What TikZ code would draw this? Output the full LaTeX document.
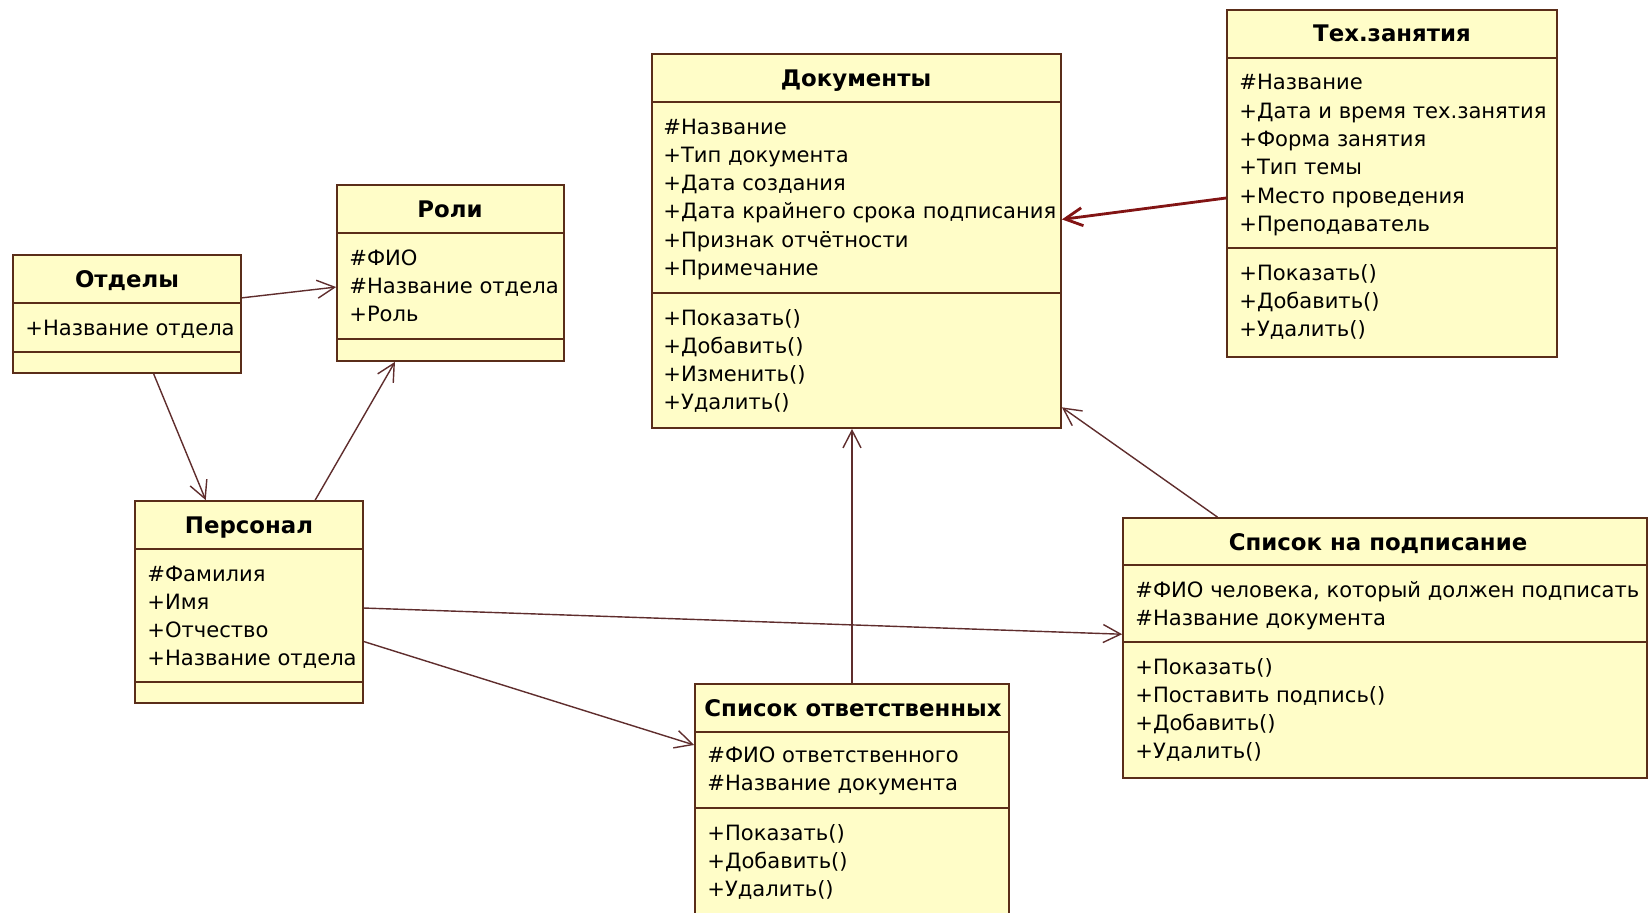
\documentclass[tikz,border=0pt]{standalone}
\usepackage{fontspec}
\setmainfont{DejaVu Sans}
\usetikzlibrary{arrows.meta, positioning, fit}

\definecolor{clsfill}{RGB}{255,253,200}
\definecolor{clsline}{RGB}{90,45,25}
\definecolor{linkcol}{RGB}{95,45,45}
\definecolor{linkred}{RGB}{130,20,20}

\begin{document}
\begin{tikzpicture}[
    x=0.2mm, y=-0.2mm,
    cls/.style={draw=clsline, fill=clsfill, line width=1pt, inner sep=0pt},
    divider/.style={draw=clsline, line width=1pt},
    clsname/.style={anchor=base, inner sep=0pt, font=\fontsize{13}{16}\selectfont\bfseries},
    item/.style={anchor=base west, inner sep=0pt, font=\fontsize{12}{16}\selectfont},
    link/.style={-{Straight Barb[length=3.5mm, width=3.6mm]}, line width=0.8pt, color=linkcol}
]
\clip (0,0) rectangle (1648,912);

% Отделы
\node[cls, fit={(13,255) (241,373)}] (otd) {};
\draw[divider] (13,303) -- (241,303) (13,352) -- (241,352);
\node[clsname] (otd-t) at (127,287) {Отделы};
\node[item] (otd-a1) at (25,335) {+Название отдела};

% Роли
\node[cls, fit={(337,185) (564,361)}] (rol) {};
\draw[divider] (337,233) -- (564,233) (337,339) -- (564,339);
\node[clsname] (rol-t) at (450,217) {Роли};
\foreach \s [count=\i] in {\#ФИО, \#Название отдела, +Роль}
    \node[item] (rol-a\i) at (349, {265+28.3*(\i-1)}) {\s};

% Персонал
\node[cls, fit={(135,501) (363,703)}] (pers) {};
\draw[divider] (135,549) -- (363,549) (135,682) -- (363,682);
\node[clsname] (pers-t) at (249,533) {Персонал};
\foreach \s [count=\i] in {\#Фамилия, +Имя, +Отчество, +Название отдела}
    \node[item] (pers-a\i) at (147, {581+28.3*(\i-1)}) {\s};

% Документы
\node[cls, fit={(652,54) (1061,428)}] (doc) {};
\draw[divider] (652,102) -- (1061,102) (652,293) -- (1061,293);
\node[clsname] (doc-t) at (856,86) {Документы};
\foreach \s [count=\i] in {\#Название, +Тип документа, +Дата создания,
    +Дата крайнего срока подписания, +Признак отчётности, +Примечание}
    \node[item] (doc-a\i) at (663, {134+28.3*(\i-1)}) {\s};
\foreach \s [count=\i] in {+Показать(), +Добавить(), +Изменить(), +Удалить()}
    \node[item] (doc-m\i) at (663, {325+28.3*(\i-1)}) {\s};

% Тех.занятия
\node[cls, fit={(1227,10) (1557,357)}] (teh) {};
\draw[divider] (1227,58) -- (1557,58) (1227,248) -- (1557,248);
\node[clsname] (teh-t) at (1392,42) {Тех.занятия};
\foreach \s [count=\i] in {\#Название, +Дата и время тех.занятия, +Форма занятия,
    +Тип темы, +Место проведения, +Преподаватель}
    \node[item] (teh-a\i) at (1239, {90+28.3*(\i-1)}) {\s};
\foreach \s [count=\i] in {+Показать(), +Добавить(), +Удалить()}
    \node[item] (teh-m\i) at (1239, {280+28.3*(\i-1)}) {\s};

% Список на подписание
\node[cls, fit={(1123,518) (1647,778)}] (pod) {};
\draw[divider] (1123,565) -- (1647,565) (1123,642) -- (1647,642);
\node[clsname] (pod-t) at (1378,550) {Список на подписание};
\foreach \s [count=\i] in {{\#ФИО человека, который должен подписать}, \#Название документа}
    \node[item] (pod-a\i) at (1135, {597+28.3*(\i-1)}) {\s};
\foreach \s [count=\i] in {+Показать(), +Поставить подпись(), +Добавить(), +Удалить()}
    \node[item] (pod-m\i) at (1135, {674+28.3*(\i-1)}) {\s};

% Список ответственных
\node[cls, fit={(695,684) (1009,940)}] (otv) {};
\draw[divider] (695,732) -- (1009,732) (695,808) -- (1009,808);
\node[clsname] (otv-t) at (853,716) {Список ответственных};
\foreach \s [count=\i] in {\#ФИО ответственного, \#Название документа}
    \node[item] (otv-a\i) at (707, {762+28.3*(\i-1)}) {\s};
\foreach \s [count=\i] in {+Показать(), +Добавить(), +Удалить()}
    \node[item] (otv-m\i) at (707, {840+28.3*(\i-1)}) {\s};

% Связи
\draw[link] (otd.8) -- (rol.187);
\draw[link] (otd.294) -- (pers.113.5);
\draw[link] (pers.57) -- (rol.238);
\draw[link] (pers.357.5) -- (pod.177.8);
\draw[link] (pers.341) -- (otv.157.5);
\draw[link] (otv.north) -- (otv.north |- doc.south);
\draw[link] (pod.142.5) -- (doc.321.8);
\draw[link, line width=1.6pt, color=linkred] (teh.185.7) -- (doc.6.4);

\end{tikzpicture}
\end{document}
